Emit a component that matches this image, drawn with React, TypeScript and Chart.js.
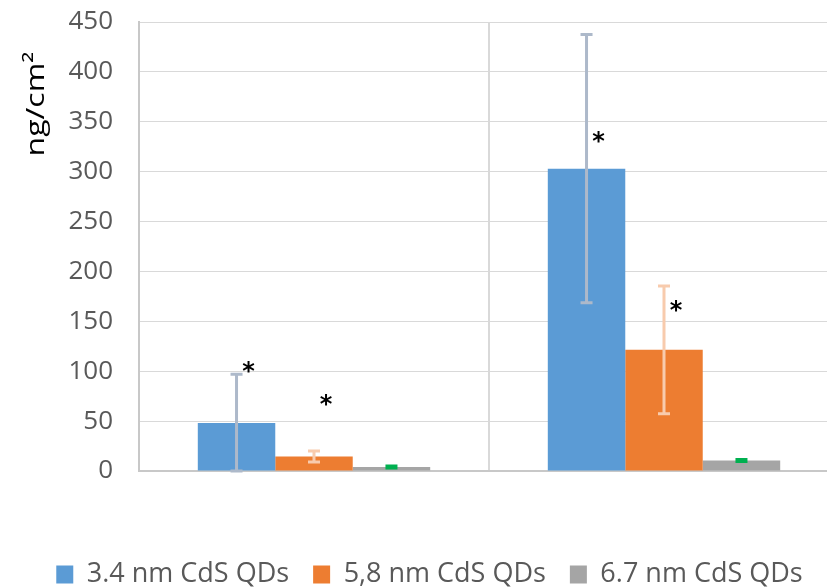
import React, { useEffect, useRef } from "react";
import { Chart, registerables } from "chart.js";

Chart.register(...registerables);

const categories = ["Group A", "Group B"];
const seriesLabels = ["3.4 nm CdS QDs", "5,8 nm CdS QDs", "6.7 nm CdS QDs"];
const qd34 = [48, 303];
const qd58 = [14.5, 121.5];
const qd67 = [4, 10.5];
const qd34Err = [49, 134.5];
const qd58Err = [5.5, 64];
const qd67Err = [1, 1];
const qd34Star = [104, 335];
const qd58Star = [71, 165];
const qd67Star: (number | null)[] = [null, null];
const yMin = 0;
const yMax = 450;
const yStep = 50;
const yTitle = "ng/cm²";

const FONT = "'Open Sans', sans-serif";

const errorBarPlugin = {
  id: "errorBars",
  afterDatasetsDraw(chart: any) {
    const ctx = chart.ctx;
    const yScale = chart.scales.y;
    const area = chart.chartArea;
    chart.data.datasets.forEach((ds: any, di: number) => {
      const meta = chart.getDatasetMeta(di);
      meta.data.forEach((bar: any, i: number) => {
        const v = ds.data[i];
        const e = ds.errors[i];
        const x = bar.x;
        const yTop = Math.max(area.top, yScale.getPixelForValue(v + e));
        const yBot = Math.min(area.bottom, yScale.getPixelForValue(v - e));
        const cap = 12;
        ctx.save();
        ctx.strokeStyle = ds.errorColor;
        ctx.lineWidth = 3;
        ctx.beginPath();
        ctx.moveTo(x, yTop);
        ctx.lineTo(x, yBot);
        ctx.moveTo(x - cap / 2, yTop);
        ctx.lineTo(x + cap / 2, yTop);
        ctx.moveTo(x - cap / 2, yBot);
        ctx.lineTo(x + cap / 2, yBot);
        ctx.stroke();
        ctx.restore();
      });
    });
    chart.data.datasets.forEach((ds: any, di: number) => {
      const meta = chart.getDatasetMeta(di);
      meta.data.forEach((bar: any, i: number) => {
        const s = ds.stars[i];
        if (s === null || s === undefined) return;
        const x = bar.x + 12;
        const y = yScale.getPixelForValue(s);
        ctx.save();
        ctx.font = "bold 24px 'DejaVu Sans', sans-serif";
        ctx.fillStyle = "#000000";
        ctx.textAlign = "center";
        ctx.textBaseline = "alphabetic";
        const m = ctx.measureText("*");
        const off = (m.actualBoundingBoxAscent - m.actualBoundingBoxDescent) / 2;
        ctx.fillText("*", x, y + off);
        ctx.restore();
      });
    });
  },
  afterDraw(chart: any) {
    const ctx = chart.ctx;
    ctx.save();
    ctx.translate(37, 104);
    ctx.rotate(-Math.PI / 2);
    ctx.scale(1.0, 0.8);
    ctx.font = "32px " + FONT;
    ctx.fillStyle = "#000000";
    ctx.textAlign = "center";
    ctx.textBaseline = "middle";
    ctx.fillText(yTitle, 0, 0);
    ctx.restore();
  },
};

export default function App() {
  const ref = useRef<HTMLCanvasElement | null>(null);
  useEffect(() => {
    if (!ref.current) return;
    const chart = new Chart(ref.current, {
      type: "bar",
      data: {
        labels: categories,
        datasets: [
          {
            label: seriesLabels[0],
            data: qd34,
            backgroundColor: "#5B9BD5",
            errors: qd34Err,
            errorColor: "#ADB9CA",
            stars: qd34Star,
          } as any,
          {
            label: seriesLabels[1],
            data: qd58,
            backgroundColor: "#ED7D31",
            errors: qd58Err,
            errorColor: "#F8CBAD",
            stars: qd58Star,
          } as any,
          {
            label: seriesLabels[2],
            data: qd67,
            backgroundColor: "#A5A5A5",
            errors: qd67Err,
            errorColor: "#00B050",
            stars: qd67Star,
          } as any,
        ],
      },
      options: {
        responsive: false,
        animation: false,
        events: [],
        layout: { padding: { left: 20, right: 21, top: 22, bottom: -10 } },
        datasets: {
          bar: { categoryPercentage: 0.664, barPercentage: 1.0 },
        },
        scales: {
          x: {
            offset: true,
            ticks: { display: false },
            grid: {
              offset: true,
              color: "#D9D9D9",
              lineWidth: 2,
              drawTicks: false,
            },
            border: { color: "#C8C8C8", width: 2 },
            afterFit: (s: any) => {
              s.height = 66;
              s.paddingLeft = 0;
              s.paddingRight = 0;
            },
          },
          y: {
            min: yMin,
            max: yMax,
            ticks: {
              stepSize: yStep,
              color: "#595959",
              font: { family: FONT, size: 26 },
              padding: 26,
            },
            grid: { color: "#D9D9D9", lineWidth: 1, drawTicks: false },
            border: { color: "#C8C8C8", width: 2 },
            afterFit: (s: any) => {
              s.width = 119;
              s.paddingTop = 0;
              s.paddingBottom = 0;
            },
          },
        },
        plugins: {
          legend: {
            position: "bottom",
            labels: {
              color: "#595959",
              font: { family: FONT, size: 27 },
              boxWidth: 17,
              boxHeight: 18,
              padding: 24,
            },
          },
          tooltip: { enabled: false },
        },
      },
      plugins: [errorBarPlugin],
    });
    return () => chart.destroy();
  }, []);
  return (
    <div
      style={{
        position: "fixed",
        left: 0,
        top: 0,
        width: 827,
        height: 588,
        overflow: "hidden",
        background: "#ffffff",
      }}
    >
      <canvas ref={ref} width={860} height={588} style={{ width: 860, height: 588 }} />
    </div>
  );
}
